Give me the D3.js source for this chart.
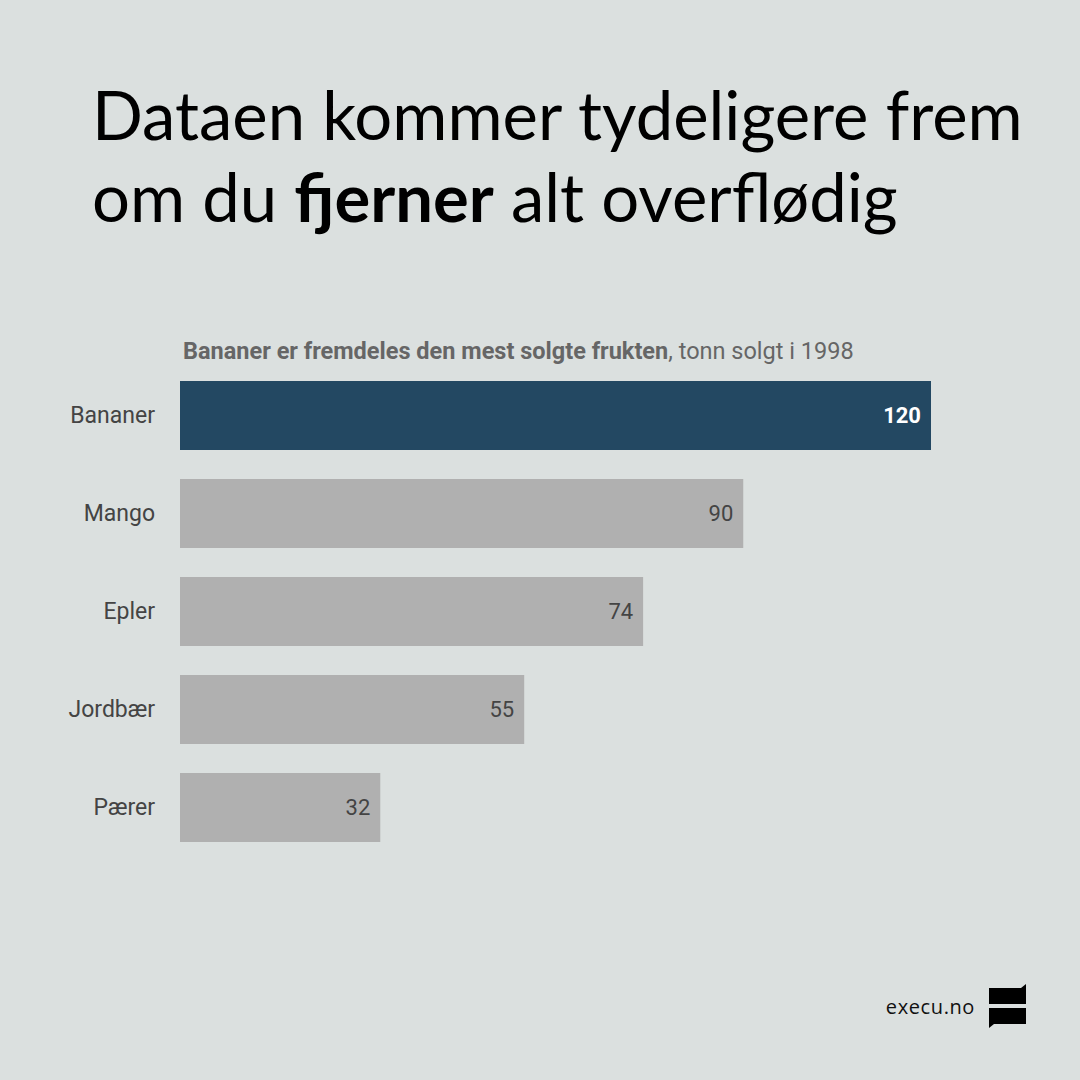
<!DOCTYPE html>
<html><head><meta charset="utf-8">
<script src="https://cdn.jsdelivr.net/npm/d3@7"></script>
<style>
html,body{margin:0;padding:0;background:#dbe0df;}
svg{display:block;}
</style></head>
<body>
<script>
const categories = ["Bananer","Mango","Epler","Jordbær","Pærer"];
const values = [120, 90, 74, 55, 32];
const highlight = ["Bananer"];

const W = 1080, H = 1080;
const svg = d3.select("body").append("svg").attr("width", W).attr("height", H);
svg.append("rect").attr("width", W).attr("height", H).attr("fill", "#dbe0df");

// Title
const title = svg.append("text").attr("font-family", "Lato, 'Open Sans', sans-serif")
  .attr("font-size", 67).attr("fill", "#000");
title.append("tspan").attr("x", 92).attr("y", 140).text("Dataen kommer tydeligere frem");
const l2 = title.append("tspan").attr("x", 92).attr("y", 222);
l2.append("tspan").text("om du ");
l2.append("tspan").attr("font-weight", 700).text("fjerner");
l2.append("tspan").text(" alt overflødig");

// Subtitle
const sub = svg.append("text").attr("x", 183).attr("y", 359)
  .attr("font-family", "Roboto, sans-serif")
  .attr("font-size", 23.5).attr("fill", "#666");
sub.append("tspan").attr("font-weight", 700).text("Bananer er fremdeles den mest solgte frukten");
sub.append("tspan").text(", tonn solgt i 1998");

// Scales
const x = d3.scaleLinear().domain([0, 120]).range([180, 931]);
const y = d3.scaleBand().domain(categories).range([381, 842]).paddingInner(0.296).paddingOuter(0);

const data = categories.map((c, i) => ({c, v: values[i]}));

svg.append("g").selectAll("rect").data(data).join("rect")
  .attr("x", x(0)).attr("y", d => y(d.c))
  .attr("width", d => x(d.v) - x(0)).attr("height", y.bandwidth())
  .attr("fill", d => highlight.includes(d.c) ? "#234862" : "#b0b0b0");

// Category axis
const yAxis = d3.axisLeft(y).tickSize(0).tickPadding(0);
const ga = svg.append("g").attr("transform", "translate(155,0)").call(yAxis);
ga.select(".domain").remove();
ga.selectAll("text").attr("font-family", "Roboto, sans-serif").attr("font-size", 23).attr("fill", "#444");

// Value labels
svg.append("g").selectAll("text").data(data).join("text")
  .attr("x", d => x(d.v) - 10).attr("y", d => y(d.c) + y.bandwidth() / 2)
  .attr("dy", "0.35em").attr("text-anchor", "end")
  .attr("font-family", "Roboto, sans-serif").attr("font-size", 22)
  .attr("font-weight", d => highlight.includes(d.c) ? 700 : 400)
  .attr("fill", d => highlight.includes(d.c) ? "#fff" : "#444")
  .text(d => d.v);

// Logo
svg.append("text").attr("x", 975).attr("y", 1014).attr("text-anchor", "end")
  .attr("font-family", "'Open Sans', sans-serif").attr("font-size", 20).attr("fill", "#111")
  .attr("letter-spacing", 0.6).text("execu.no");
svg.append("path").attr("fill", "#000")
  .attr("d", "M989,988 L1021,988 L1026,984 L1026,1004 L989,1004 Z");
svg.append("path").attr("fill", "#000")
  .attr("d", "M989,1008 L1026,1008 L1026,1024 L994,1024 L989,1028 Z");
</script>
</body></html>
